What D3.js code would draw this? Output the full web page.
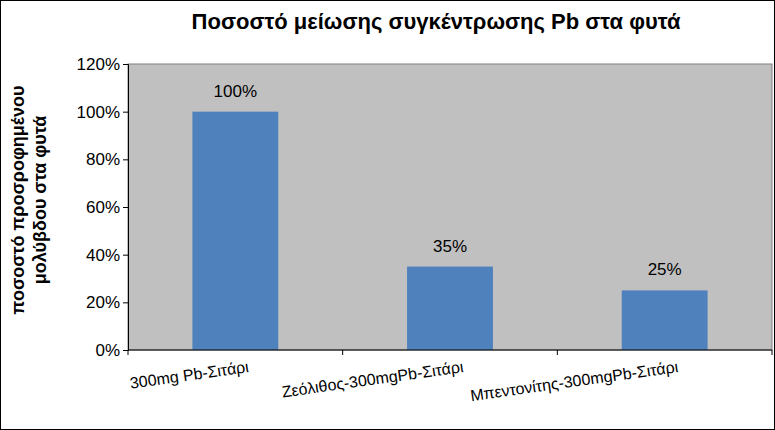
<!DOCTYPE html>
<html><head><meta charset="utf-8">
<script src="https://cdnjs.cloudflare.com/ajax/libs/d3/7.8.5/d3.min.js"></script>
<style>body{margin:0;background:#fff}svg{font-family:Arial,"Liberation Sans",sans-serif}</style>
</head><body><svg id="c" width="775" height="430"></svg>
<script>
// values
const categories = ["300mg Pb-Σιτάρι", "Ζεόλιθος-300mgPb-Σιτάρι", "Μπεντονίτης-300mgPb-Σιτάρι"];
const reduction = [1.00, 0.35, 0.25];
const yTicks = [0, 0.2, 0.4, 0.6, 0.8, 1.0, 1.2];

const svg = d3.select("#c");
const m = {left: 128, right: 772, top: 64, bottom: 350};

svg.append("rect").attr("x", 0.5).attr("y", 0.5).attr("width", 774).attr("height", 429)
	.attr("fill", "#fff").attr("stroke", "#000");

const x = d3.scaleBand().domain(categories).range([m.left, m.right]).paddingInner(0.6).paddingOuter(0.3);
const y = d3.scaleLinear().domain([0, 1.2]).range([m.bottom, m.top]);

svg.append("rect").attr("x", m.left).attr("y", m.top).attr("width", m.right - m.left)
	.attr("height", m.bottom - m.top).attr("fill", "#c0c0c0").attr("stroke", "#808080");

svg.selectAll("rect.bar").data(reduction).enter().append("rect").attr("class", "bar")
	.attr("x", (d, i) => x(categories[i])).attr("width", x.bandwidth())
	.attr("y", d => y(d)).attr("height", d => y(0) - y(d)).attr("fill", "#4f81bd");

svg.selectAll("text.val").data(reduction).enter().append("text").attr("class", "val")
	.attr("x", (d, i) => x(categories[i]) + x.bandwidth() / 2).attr("y", d => y(d) - 15)
	.attr("text-anchor", "middle").attr("font-size", 17).text(d => Math.round(d * 100) + "%");

const yAxis = svg.append("g").attr("transform", `translate(${m.left},0)`)
	.call(d3.axisLeft(y).tickValues(yTicks).tickFormat(d3.format(".0%")).tickSizeOuter(0).tickSize(5));
yAxis.selectAll("text").attr("font-size", 17).attr("fill", "#000");

// category boundary ticks on the x axis
const bounds = [m.left, m.left + (m.right - m.left) / 3, m.left + 2 * (m.right - m.left) / 3, m.right];
svg.append("line").attr("x1", m.left).attr("x2", m.right).attr("y1", m.bottom).attr("y2", m.bottom).attr("stroke", "#000");
svg.selectAll("line.xt").data(bounds).enter().append("line").attr("class", "xt")
	.attr("x1", d => d).attr("x2", d => d).attr("y1", m.bottom).attr("y2", m.bottom + 5).attr("stroke", "#000");

svg.selectAll("text.cat").data(categories).enter().append("text").attr("class", "cat")
	.attr("transform", d => `translate(${x(d) + x.bandwidth() / 2 + 14},${m.bottom + 22}) rotate(-8)`)
	.attr("text-anchor", "end").attr("font-size", 16).text(d => d);

svg.append("text").attr("x", 436).attr("y", 29).attr("text-anchor", "middle")
	.attr("font-size", 22).attr("font-weight", "bold").text("Ποσοστό μείωσης συγκέντρωσης Pb στα φυτά");

const yt = svg.append("text").attr("transform", "translate(0,200) rotate(-90)")
	.attr("text-anchor", "middle").attr("font-size", 18).attr("font-weight", "bold");
yt.append("tspan").attr("x", 0).attr("y", 24).text("ποσοστό προσροφημένου");
yt.append("tspan").attr("x", 0).attr("y", 46).text("μολύβδου στα φυτά");
</script></body></html>
